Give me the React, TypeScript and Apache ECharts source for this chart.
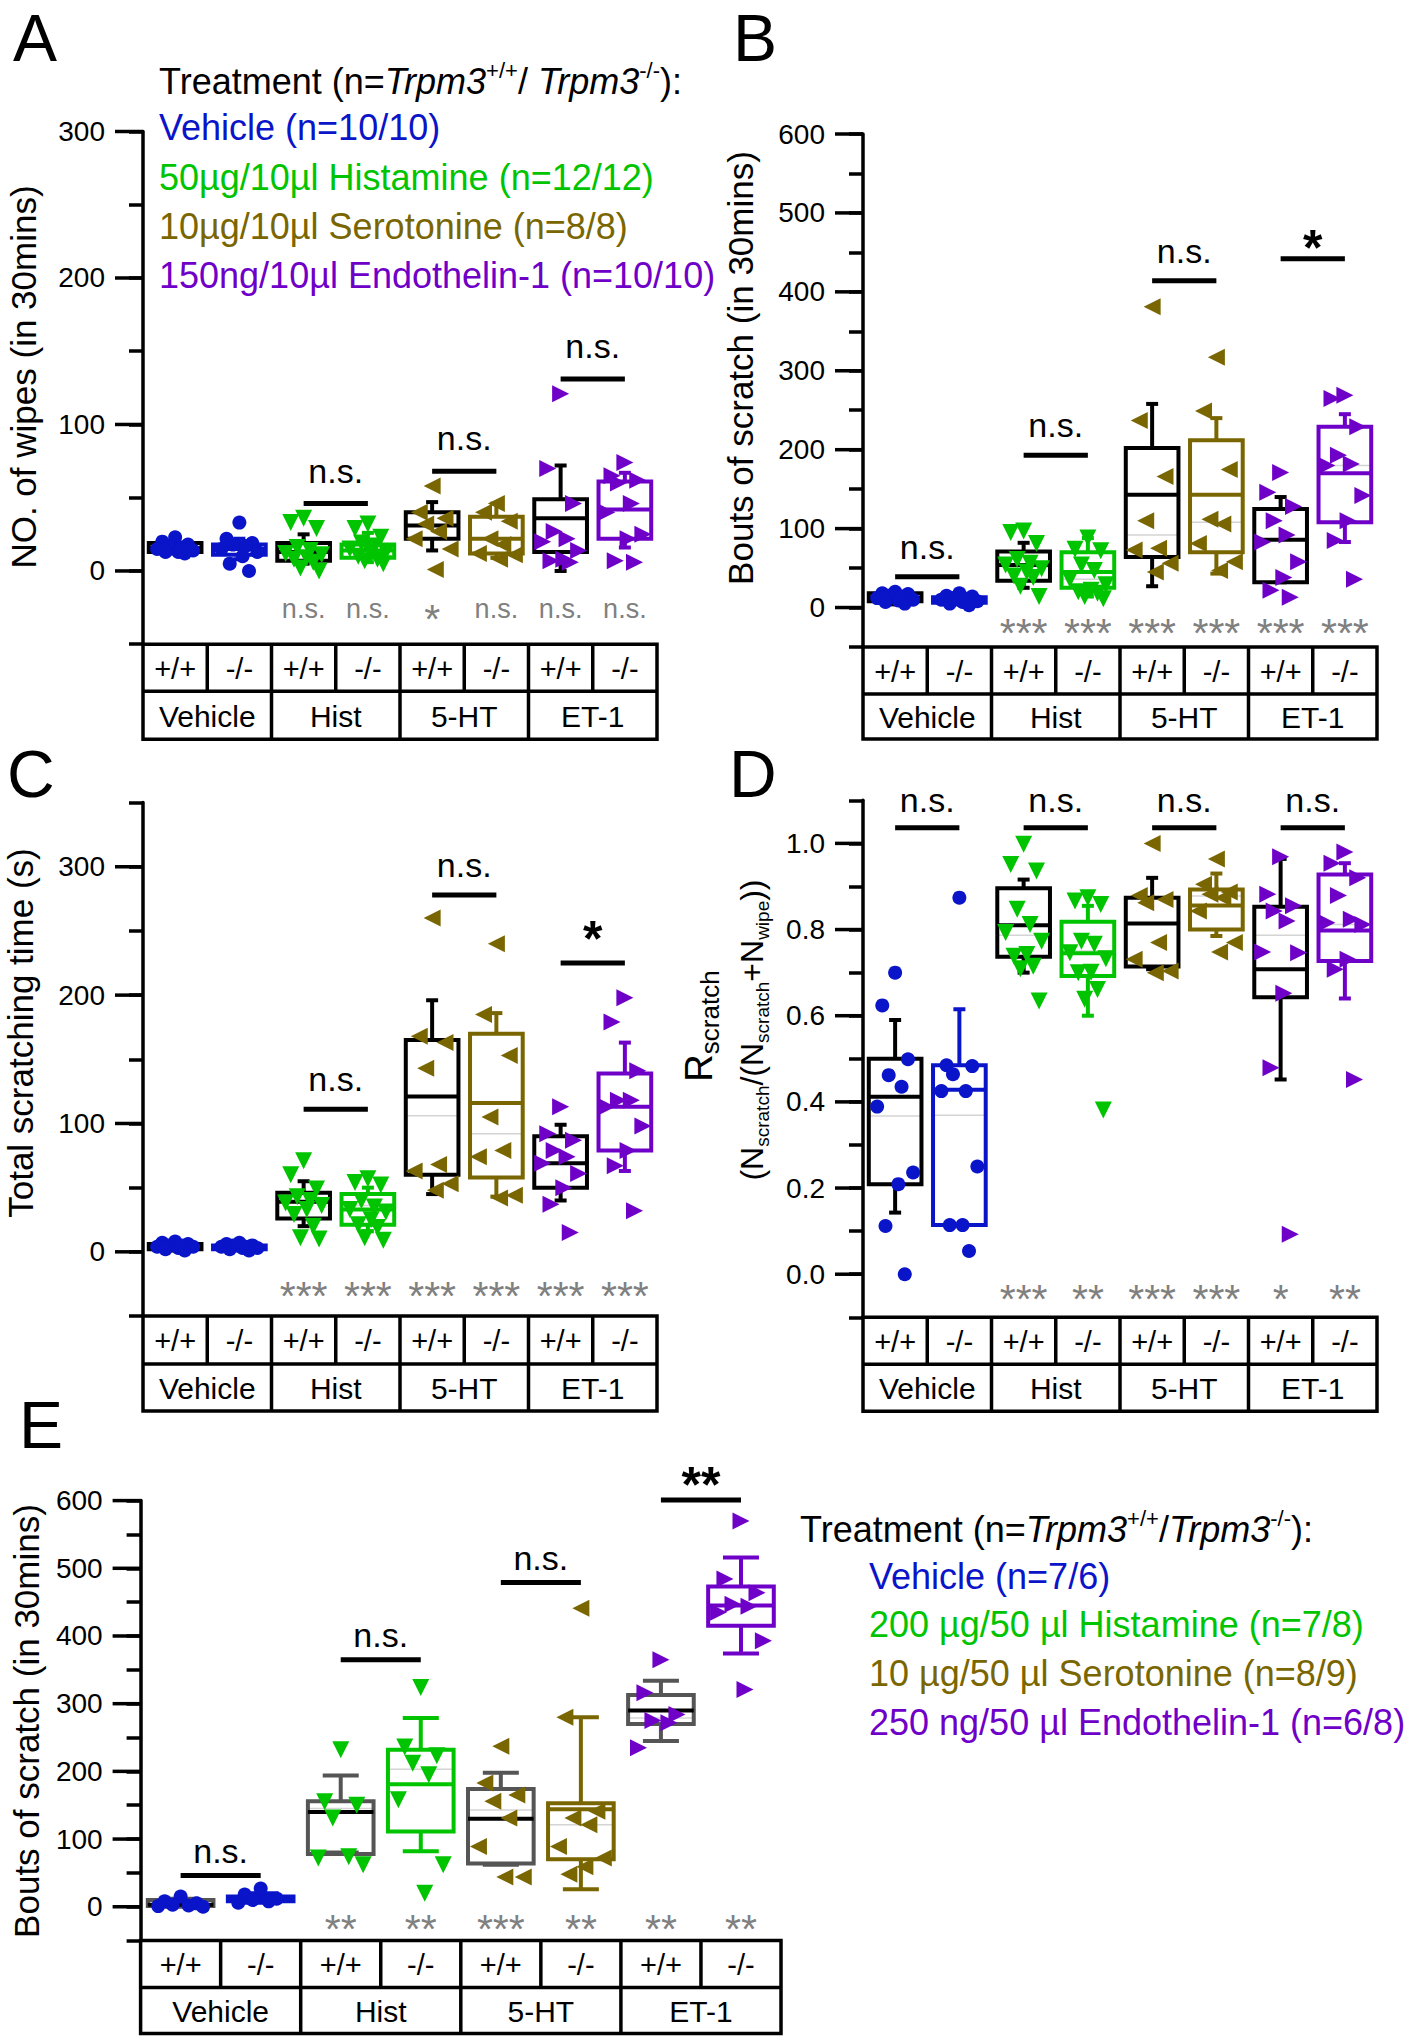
import React, { useEffect, useRef } from 'react';
import * as echarts from 'echarts';

const FONT = '"Liberation Sans", Arial, Helvetica, sans-serif';
const BLUE = '#0A14C8';
const GREEN = '#00C400';
const OLIVE = '#7A6600';
const PURPLE = '#6E00C8';
const STAR_GRAY = '#808080';
const DARK_GRAY = '#555555';
const MEAN_GRAY = '#D4D4D4';

// ---------- shared labels ----------
const genotypes = ['+/+', '-/-', '+/+', '-/-', '+/+', '-/-', '+/+', '-/-'];
const treatments = ['Vehicle', 'Hist', '5-HT', 'ET-1'];

// ---------- Panel A : NO. of wipes (in 30mins) ----------
const aPoints = [
  [23, 20, 18, 17, 16, 15, 14, 13, 13, 12],
  [33, 22, 19, 18, 17, 15, 13, 10, 5, 0],
  [36, 33, 29, 16, 14, 12, 11, 9, 8, 6, 2, 0],
  [32, 29, 23, 19, 17, 15, 13, 12, 10, 8, 7, 5],
  [58, 40, 36, 32, 27, 22, 15, 1],
  [46, 40, 34, 22, 18, 12, 11, 8],
  [121, 70, 46, 27, 22, 20, 14, 8, 7, 6],
  [74, 65, 62, 60, 46, 40, 25, 22, 7, 6],
];
// [low whisker, q1, median, q3, high whisker]
const aBoxes = [
  [12, 13, 15.5, 19, 20],
  [8, 11, 15, 18, 22],
  [5, 7, 13, 19, 25],
  [6, 9, 14, 18, 26],
  [14, 22, 31, 40, 47],
  [9, 12, 22, 37, 46],
  [0, 13, 36, 49, 72],
  [16, 22, 42, 61, 67],
];
const aMeans = [null, null, null, null, null, null, null, null];
const aSig = [[2, 3, 46, 'n.s.'], [4, 5, 68, 'n.s.'], [6, 7, 131, 'n.s.']];
const aStars = ['', '', 'n.s.', 'n.s.', '*', 'n.s.', 'n.s.', 'n.s.'];
const aMajors = [0, 100, 200, 300];

// ---------- Panel B : Bouts of scratch ----------
const bPoints = [
  [20, 18, 17, 15, 14, 12, 10, 9, 7, 5],
  [18, 15, 14, 12, 11, 10, 8, 7, 5, 3],
  [97, 95, 81, 61, 56, 54, 49, 45, 40, 38, 27, 14],
  [88, 74, 72, 54, 47, 36, 29, 22, 20, 18, 14, 11],
  [381, 237, 166, 110, 75, 73, 56, 45],
  [317, 249, 175, 112, 106, 81, 58, 47],
  [171, 146, 128, 110, 92, 83, 58, 38, 22, 13],
  [269, 265, 229, 193, 182, 180, 142, 110, 85, 36],
];
const bBoxes = [
  [4, 8, 12, 18, 20],
  [4, 6, 9, 13, 16],
  [25, 34, 54, 71, 82],
  [14, 25, 45, 70, 88],
  [27, 64, 143, 202, 258],
  [43, 70, 143, 212, 240],
  [32, 32, 86, 125, 140],
  [83, 108, 170, 229, 245],
];
const bMeans = [null, null, null, 36, 92, 108, null, 180];
const bSig = [[0, 1, 39, 'n.s.'], [2, 3, 193, 'n.s.'], [4, 5, 414, 'n.s.'], [6, 7, 442, '*']];
const bStars = ['', '', '***', '***', '***', '***', '***', '***'];
const bMajors = [0, 100, 200, 300, 400, 500, 600];

// ---------- Panel C : Total scratching time (s) ----------
const cPoints = [
  [8, 7, 6, 5, 5, 4, 4, 3, 2, 1],
  [7, 6, 5, 5, 4, 4, 3, 3, 2, 1],
  [71, 60, 49, 43, 40, 38, 36, 33, 29, 20, 11, 10],
  [57, 54, 52, 40, 35, 33, 31, 25, 21, 19, 11, 9],
  [260, 168, 163, 143, 68, 63, 53, 48],
  [240, 185, 153, 105, 79, 74, 44, 42],
  [113, 92, 87, 79, 74, 69, 61, 50, 37, 15],
  [198, 179, 141, 118, 118, 113, 98, 79, 67, 32],
];
const cBoxes = [
  [1, 2, 4, 6, 7],
  [1, 2, 4, 5, 6],
  [20, 26, 39, 46, 55],
  [16, 21, 33, 45, 50],
  [45, 60, 121, 165, 196],
  [43, 58, 116, 170, 186],
  [40, 50, 69, 90, 99],
  [63, 79, 113, 139, 163],
];
const cMeans = [null, null, null, 36, 106, 92, null, null];
const cSig = [[2, 3, 111, 'n.s.'], [4, 5, 278, 'n.s.'], [6, 7, 225, '*']];
const cStars = ['', '', '***', '***', '***', '***', '***', '***'];
const cMajors = [0, 100, 200, 300];

// ---------- Panel D : R scratch ----------
const dPoints = [
  [0.70, 0.624, 0.499, 0.462, 0.435, 0.389, 0.236, 0.209, 0.112, 0.0],
  [0.874, 0.485, 0.483, 0.464, 0.425, 0.425, 0.25, 0.114, 0.114, 0.054],
  [0.998, 0.951, 0.936, 0.847, 0.812, 0.793, 0.773, 0.742, 0.738, 0.715, 0.709, 0.634],
  [0.874, 0.866, 0.858, 0.773, 0.766, 0.746, 0.732, 0.701, 0.70, 0.661, 0.638, 0.381],
  [1.0, 0.879, 0.87, 0.862, 0.77, 0.731, 0.704, 0.70],
  [0.964, 0.905, 0.887, 0.882, 0.874, 0.843, 0.77, 0.748],
  [0.969, 0.882, 0.855, 0.843, 0.82, 0.748, 0.746, 0.652, 0.479, 0.093],
  [0.98, 0.954, 0.92, 0.879, 0.824, 0.816, 0.812, 0.731, 0.708, 0.452],
];
const dBoxes = [
  [0.143, 0.209, 0.412, 0.5, 0.59],
  [0.114, 0.114, 0.428, 0.485, 0.615],
  [0.70, 0.737, 0.81, 0.896, 0.916],
  [0.6, 0.692, 0.745, 0.818, 0.855],
  [0.708, 0.714, 0.814, 0.874, 0.92],
  [0.785, 0.8, 0.856, 0.893, 0.93],
  [0.452, 0.643, 0.708, 0.853, 0.964],
  [0.64, 0.727, 0.798, 0.928, 0.954],
];
const dMeans = [0.367, 0.369, 0.787, 0.75, null, 0.878, 0.787, 0.812];
const dSig = [[0, 1, 1.036, 'n.s.'], [2, 3, 1.036, 'n.s.'], [4, 5, 1.036, 'n.s.'], [6, 7, 1.036, 'n.s.']];
const dStars = ['', '', '***', '**', '***', '***', '*', '**'];
const dMajors = [0, 0.2, 0.4, 0.6, 0.8, 1.0];

// ---------- Panel E : Bouts of scratch (second cohort) ----------
const ePoints = [
  [15, 8, 5, 3, 2, 1, 0],
  [27, 18, 12, 10, 8, 6],
  [232, 155, 150, 131, 74, 72, 62],
  [324, 236, 223, 212, 195, 158, 62, 20],
  [237, 183, 165, 156, 131, 89, 44, 44],
  [441, 280, 141, 131, 121, 89, 72, 59, 48],
  [365, 316, 284, 275, 272, 235],
  [570, 484, 464, 447, 444, 435, 393, 321],
];
const eBoxes = [
  [0, 1, 3, 10, 12],
  [6, 8, 11, 15, 20],
  [80, 78, 140, 156, 194],
  [82, 111, 181, 232, 279],
  [62, 64, 130, 174, 198],
  [26, 70, 144, 153, 280],
  [245, 270, 290, 313, 334],
  [374, 415, 445, 473, 516],
];
const eMeans = [null, null, 145, 203, 143, 121, 279, null];
const eSig = [[0, 1, 46, 'n.s.'], [2, 3, 365, 'n.s.'], [4, 5, 479, 'n.s.'], [6, 7, 601, '**']];
const eStars = ['', '', '**', '**', '***', '**', '**', '**'];
const eMajors = [0, 100, 200, 300, 400, 500, 600];

// ---------- legends ----------
const aLegendTitle = 'Treatment (n={i|Trpm3}{sup|+/+}/ {i|Trpm3}{sup|-/-}):';
const aLegend = [
  'Vehicle (n=10/10)',
  '50µg/10µl Histamine (n=12/12)',
  '10µg/10µl Serotonine (n=8/8)',
  '150ng/10µl Endothelin-1 (n=10/10)',
];
const eLegendTitle = 'Treatment (n={i|Trpm3}{sup|+/+}/{i|Trpm3}{sup|-/-}):';
const eLegend = [
  'Vehicle (n=7/6)',
  '200 µg/50 µl Histamine (n=7/8)',
  '10 µg/50 µl Serotonine (n=8/9)',
  '250 ng/50 µl Endothelin-1 (n=6/8)',
];
const legendColors = [BLUE, GREEN, OLIVE, PURPLE];

// ---------- styling ----------
const markers = [
  { symbol: 'circle', rotate: 0, color: BLUE, size: 14 },
  { symbol: 'circle', rotate: 0, color: BLUE, size: 14 },
  { symbol: 'triangle', rotate: 180, color: GREEN, size: 17 },
  { symbol: 'triangle', rotate: 180, color: GREEN, size: 17 },
  { symbol: 'triangle', rotate: 90, color: OLIVE, size: 17 },
  { symbol: 'triangle', rotate: 90, color: OLIVE, size: 17 },
  { symbol: 'triangle', rotate: -90, color: PURPLE, size: 17 },
  { symbol: 'triangle', rotate: -90, color: PURPLE, size: 17 },
];
const jitter = [0, -0.2, 0.2, -0.1, 0.1, -0.28, 0.28, 0.05, -0.15, 0.15, -0.05, 0.24];
const boxColorsBW = ['#000', BLUE, '#000', GREEN, '#000', OLIVE, '#000', PURPLE];
const boxColorsE = [DARK_GRAY, BLUE, DARK_GRAY, GREEN, DARK_GRAY, OLIVE, DARK_GRAY, PURPLE];

const panels: any[] = [
  {
    points: aPoints, boxes: aBoxes, means: aMeans, sig: aSig, stars: aStars, majors: aMajors, decimals: 0,
    min: -50, max: 300, step: 50, left: 143, top: 131.5, width: 514, height: 512.7, rows: [47, 48],
    capW: 12, starY: -27, nsLift: 33, starLift: 11, boxColors: boxColorsBW, medColors: boxColorsBW,
    letter: 'A', letterPos: [13, 38], yLabel: 'NO. of wipes (in 30mins)', yLabelPos: [23, 377],
  },
  {
    points: bPoints, boxes: bBoxes, means: bMeans, sig: bSig, stars: bStars, majors: bMajors, decimals: 0,
    min: -50, max: 600, step: 50, left: 863, top: 134, width: 514, height: 513, rows: [47, 45],
    capW: 12, starY: -22, nsLift: 30, starLift: 11, boxColors: boxColorsBW, medColors: boxColorsBW,
    letter: 'B', letterPos: [733, 38], yLabel: 'Bouts of scratch (in 30mins)', yLabelPos: [740, 368],
  },
  {
    points: cPoints, boxes: cBoxes, means: cMeans, sig: cSig, stars: cStars, majors: cMajors, decimals: 0,
    min: -50, max: 350, step: 50, left: 143, top: 802.6, width: 514, height: 513.4, rows: [48, 47],
    capW: 12, starY: -28, nsLift: 30, starLift: 24, boxColors: boxColorsBW, medColors: boxColorsBW,
    letter: 'C', letterPos: [7, 774], yLabel: 'Total scratching time (s)', yLabelPos: [20, 1033],
  },
  {
    points: dPoints, boxes: dBoxes, means: dMeans, sig: dSig, stars: dStars, majors: dMajors, decimals: 1,
    min: -0.1, max: 1.1, step: 0.1, left: 863, top: 800.3, width: 514, height: 517, rows: [47, 47],
    capW: 12, starY: -0.039, nsLift: 28, starLift: 11, boxColors: boxColorsBW, medColors: boxColorsBW,
    letter: 'D', letterPos: [729, 774], yLabel: null, yLabelPos: null,
  },
  {
    points: ePoints, boxes: eBoxes, means: eMeans, sig: eSig, stars: eStars, majors: eMajors, decimals: 0,
    min: -50, max: 600, step: 50, left: 140.6, top: 1500.6, width: 640.4, height: 440, rows: [47, 46],
    capW: 36, starY: -21, nsLift: 25, starLift: 15, boxColors: boxColorsE, medColors: boxColorsBW,
    letter: 'E', letterPos: [19, 1425], yLabel: 'Bouts of scratch (in 30mins)', yLabelPos: [26, 1721],
  },
];

const isMajor = (v: number, p: any) => p.majors.some((m: number) => Math.abs(m - v) < 1e-6);

function textStyle(extra: any) {
  const s: any = { fontFamily: FONT, fill: '#000', ...extra };
  if (s.align) s.textAlign = s.align;
  if (s.verticalAlign) s.textVerticalAlign = s.verticalAlign;
  return s;
}

function buildOption() {
  const grid: any[] = [];
  const xAxis: any[] = [];
  const yAxis: any[] = [];
  const series: any[] = [];
  const elements: any[] = [];

  panels.forEach((p, i) => {
    grid.push({ left: p.left, top: p.top, width: p.width, height: p.height, containLabel: false });
    xAxis.push({ type: 'value', gridIndex: i, min: 0, max: 8, show: false });
    yAxis.push({
      type: 'value', gridIndex: i, min: p.min, max: p.max, interval: p.step,
      axisLine: { show: true, onZero: false, lineStyle: { color: '#000', width: 3.5 } },
      axisTick: { show: true, length: 14, lineStyle: { color: '#000', width: 3.5 } },
      axisLabel: {
        show: true, margin: 38, color: '#000', fontSize: 28, fontFamily: FONT,
        formatter: (v: number) => (isMajor(v, p) ? v.toFixed(p.decimals) : ''),
      },
      splitLine: { show: false },
    });

    // boxes
    series.push({
      type: 'custom', xAxisIndex: i, yAxisIndex: i, z: 2, silent: true,
      data: p.boxes.map((b: number[], k: number) => [k, ...b]),
      renderItem: (params: any, api: any) => {
        const k = api.value(0);
        const x = k + 0.5;
        const yLow = api.coord([x, api.value(1)])[1];
        const yQ1 = api.coord([x, api.value(2)])[1];
        const yMed = api.coord([x, api.value(3)])[1];
        const yQ3 = api.coord([x, api.value(4)])[1];
        const yHigh = api.coord([x, api.value(5)])[1];
        const cx = api.coord([x, 0])[0];
        const bw = api.size([0.82, 0])[0];
        const cap = p.capW / 2;
        const col = p.boxColors[k];
        const mcol = p.medColors[k];
        const lw = 4;
        const st = { stroke: col, lineWidth: lw, fill: 'none' };
        const children: any[] = [
          { type: 'line', shape: { x1: cx, y1: yQ3, x2: cx, y2: yHigh }, style: st },
          { type: 'line', shape: { x1: cx, y1: yQ1, x2: cx, y2: yLow }, style: st },
          { type: 'line', shape: { x1: cx - cap, y1: yHigh, x2: cx + cap, y2: yHigh }, style: st },
          { type: 'line', shape: { x1: cx - cap, y1: yLow, x2: cx + cap, y2: yLow }, style: st },
        ];
        const mean = p.means[k];
        if (mean != null) {
          const yMean = api.coord([x, mean])[1];
          children.push({ type: 'line', shape: { x1: cx - bw / 2, y1: yMean, x2: cx + bw / 2, y2: yMean }, style: { stroke: MEAN_GRAY, lineWidth: 1.5 } });
        }
        children.push({ type: 'rect', shape: { x: cx - bw / 2, y: yQ3, width: bw, height: yQ1 - yQ3 }, style: st });
        children.push({ type: 'line', shape: { x1: cx - bw / 2, y1: yMed, x2: cx + bw / 2, y2: yMed }, style: { stroke: mcol, lineWidth: lw } });
        return { type: 'group', children };
      },
    });

    // points
    p.points.forEach((vals: number[], k: number) => {
      const m = markers[k];
      series.push({
        type: 'scatter', xAxisIndex: i, yAxisIndex: i, z: 3, silent: true,
        symbol: m.symbol, symbolRotate: m.rotate, symbolSize: m.size,
        itemStyle: { color: m.color, opacity: 1 },
        data: vals.map((v, j) => [k + 0.5 + jitter[j % jitter.length], v]),
      });
    });

    // significance bars
    series.push({
      type: 'custom', xAxisIndex: i, yAxisIndex: i, z: 4, silent: true, clip: false,
      data: p.sig.map((s: any[]) => [s[0], s[1], s[2]]),
      renderItem: (params: any, api: any) => {
        const a = api.coord([api.value(0) + 0.5, api.value(2)]);
        const b = api.coord([api.value(1) + 0.5, api.value(2)]);
        const label = p.sig[params.dataIndex][3];
        const star = label.indexOf('*') >= 0;
        return {
          type: 'group',
          children: [
            { type: 'line', shape: { x1: a[0], y1: a[1], x2: b[0], y2: b[1] }, style: { stroke: '#000', lineWidth: 5 } },
            {
              type: 'text', x: (a[0] + b[0]) / 2, y: a[1] - (star ? p.starLift : p.nsLift),
              style: textStyle({ text: label, fontSize: star ? 50 : 34, lineHeight: star ? 30 : 34, fontWeight: star ? 'bold' : 'normal', align: 'center', verticalAlign: 'middle' }),
            },
          ],
        };
      },
    });

    // gray per-column significance vs vehicle
    series.push({
      type: 'custom', xAxisIndex: i, yAxisIndex: i, z: 4, silent: true, clip: false,
      data: p.stars.map((s: string, k: number) => [k + 0.5, p.starY]),
      renderItem: (params: any, api: any) => {
        const pt = api.coord([api.value(0), api.value(1)]);
        const label = p.stars[params.dataIndex];
        const star = label.indexOf('*') >= 0;
        return {
          type: 'text', x: pt[0], y: pt[1] + (star ? 8 : -2),
          style: textStyle({ text: label, fill: STAR_GRAY, fontSize: star ? 41 : 27, lineHeight: star ? 20 : 27, align: 'center', verticalAlign: 'middle' }),
        };
      },
    });

    // long major ticks
    series.push({
      type: 'custom', xAxisIndex: i, yAxisIndex: i, z: 5, silent: true, clip: false,
      data: p.majors.map((m: number) => [0, m]),
      renderItem: (params: any, api: any) => {
        const pt = api.coord([0, api.value(1)]);
        return { type: 'line', shape: { x1: pt[0] - 28, y1: pt[1], x2: pt[0], y2: pt[1] }, style: { stroke: '#000', lineWidth: 3.5 } };
      },
    });

    // table below the axis
    const L = p.left, W = p.width, T = p.top + p.height;
    const r1 = p.rows[0], r2 = p.rows[1];
    const lineSt = { stroke: '#000', lineWidth: 3.5, fill: 'none' };
    elements.push({ type: 'rect', shape: { x: L, y: T, width: W, height: r1 + r2 }, style: lineSt });
    elements.push({ type: 'line', shape: { x1: L, y1: T + r1, x2: L + W, y2: T + r1 }, style: lineSt });
    for (let k = 1; k < 8; k++) {
      const xx = L + (k * W) / 8;
      elements.push({ type: 'line', shape: { x1: xx, y1: T, x2: xx, y2: T + r1 }, style: lineSt });
    }
    for (let k = 1; k < 4; k++) {
      const xx = L + (k * W) / 4;
      elements.push({ type: 'line', shape: { x1: xx, y1: T + r1, x2: xx, y2: T + r1 + r2 }, style: lineSt });
    }
    genotypes.forEach((g, k) => {
      elements.push({
        type: 'text', x: L + ((k + 0.5) * W) / 8, y: T + r1 / 2 + 1,
        style: textStyle({ text: g, fontSize: 29, lineHeight: 30, align: 'center', verticalAlign: 'middle' }),
      });
    });
    treatments.forEach((t, k) => {
      elements.push({
        type: 'text', x: L + ((k + 0.5) * W) / 4, y: T + r1 + r2 / 2 + 1,
        style: textStyle({ text: t, fontSize: 30, lineHeight: 32, align: 'center', verticalAlign: 'middle' }),
      });
    });

    // panel letter
    elements.push({
      type: 'text', x: p.letterPos[0], y: p.letterPos[1],
      style: textStyle({ text: p.letter, fontSize: 66, lineHeight: 54, align: 'left', verticalAlign: 'middle' }),
    });

    // y label
    if (p.yLabel) {
      elements.push({
        type: 'text', x: p.yLabelPos[0], y: p.yLabelPos[1], rotation: Math.PI / 2,
        style: textStyle({ text: p.yLabel, fontSize: 35, align: 'center', verticalAlign: 'middle' }),
      });
    }
  });

  // panel D y labels with subscripts
  elements.push({
    type: 'text', x: 699, y: 1026, rotation: Math.PI / 2,
    style: textStyle({
      text: 'R{sub|scratch}', fontSize: 38, lineHeight: 48, align: 'center', verticalAlign: 'middle',
      rich: { sub: { fontSize: 26, lineHeight: 26, verticalAlign: 'bottom', fontFamily: FONT, fill: '#000' } },
    }),
  });
  elements.push({
    type: 'text', x: 752, y: 1030, rotation: Math.PI / 2,
    style: textStyle({
      text: '(N{sub|scratch}/(N{sub|scratch}+N{sub|wipe}))', fontSize: 32, lineHeight: 40, align: 'center', verticalAlign: 'middle',
      rich: { sub: { fontSize: 19, lineHeight: 19, verticalAlign: 'bottom', fontFamily: FONT, fill: '#000' } },
    }),
  });

  // legends
  const richTitle = {
    i: { fontStyle: 'italic', fontSize: 36, lineHeight: 44, fontFamily: FONT, fill: '#000' },
    sup: { fontSize: 22, lineHeight: 22, verticalAlign: 'top', fontFamily: FONT, fill: '#000' },
  };
  elements.push({
    type: 'text', x: 159, y: 81,
    style: textStyle({ text: aLegendTitle, fontSize: 36, lineHeight: 44, align: 'left', verticalAlign: 'middle', rich: richTitle }),
  });
  aLegend.forEach((t, k) => {
    elements.push({
      type: 'text', x: 159, y: [127.5, 177, 226.5, 275][k],
      style: textStyle({ text: t, fontSize: 36, fill: legendColors[k], align: 'left', verticalAlign: 'middle' }),
    });
  });
  elements.push({
    type: 'text', x: 800, y: 1529,
    style: textStyle({ text: eLegendTitle, fontSize: 36, lineHeight: 44, align: 'left', verticalAlign: 'middle', rich: richTitle }),
  });
  eLegend.forEach((t, k) => {
    elements.push({
      type: 'text', x: 869, y: [1576, 1624, 1673, 1722][k],
      style: textStyle({ text: t, fontSize: 36, fill: legendColors[k], align: 'left', verticalAlign: 'middle' }),
    });
  });

  return {
    animation: false,
    backgroundColor: '#fff',
    textStyle: { fontFamily: FONT },
    grid, xAxis, yAxis, series,
    graphic: { elements },
  };
}

export default function App() {
  const ref = useRef<HTMLDivElement>(null);
  useEffect(() => {
    if (!ref.current) return;
    const chart = echarts.init(ref.current, null, { renderer: 'svg' });
    chart.setOption(buildOption() as any);
    return () => chart.dispose();
  }, []);
  return (
    <div
      ref={ref}
      style={{ position: 'absolute', left: 0, top: 0, width: 1416, height: 2040, background: '#fff' }}
    />
  );
}
